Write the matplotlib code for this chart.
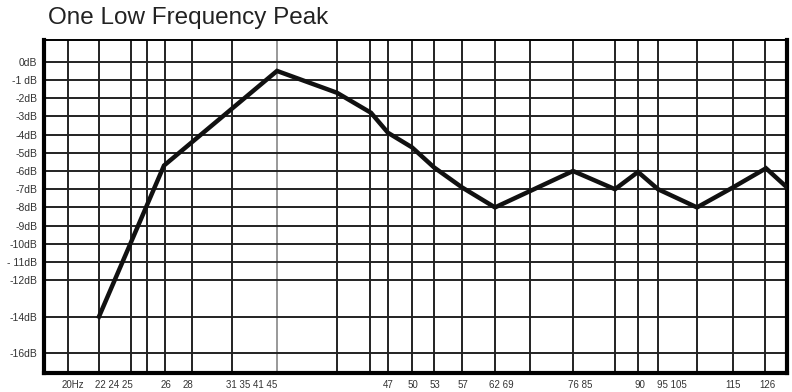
import matplotlib.pyplot as plt

# column positions of the printed grid (the x axis is not to scale)
grid_cols = [68, 99, 131, 147, 165, 192, 232, 337, 370, 388, 412, 434,
             462, 495, 530, 573, 615, 638, 658, 697, 733, 765]
grey_col = 277

# response curve: column position and level in dB
curve_cols = [99, 164, 277, 337, 371, 388, 412, 434, 462, 495,
              573, 615, 638, 658, 697, 733, 766, 787]
curve_db = [-14, -5.7, -0.5, -1.7, -2.8, -3.9, -4.7, -5.8, -6.9, -8,
            -6, -7, -6.05, -7, -8, -6.9, -5.85, -6.9]

# frequency labels along the bottom
freq_label_cols = [73, 114, 166, 188, 252, 388, 413, 435, 463, 501,
                   580, 640, 672, 733, 767]
freq_labels = ['20Hz', '22 24 25', '26', '28', '31 35 41 45', '47', '50',
               '53', '57', '62 69', '76 85', '90', '95 105', '115', '126']

db_ticks = [0, -1, -2, -3, -4, -5, -6, -7, -8, -9, -10, -11, -12, -14, -16]
db_labels = ['0dB', '-1 dB', '-2dB', '-3dB', '-4dB', '-5dB', '-6dB', '-7dB',
             '-8dB', '-9dB', '-10dB', '- 11dB', '-12dB', '-14dB', '-16dB']

plt.rcParams['font.family'] = ['Liberation Sans', 'DejaVu Sans']

fig = plt.figure(figsize=(7.92, 3.92), dpi=100)
ax = fig.add_axes([44 / 792, 1 - 373 / 392, 743 / 792, 333 / 392])

for c in grid_cols:
    ax.axvline(c, color='#222222', lw=1.4, zorder=1)
ax.axvline(grey_col, color='#999999', lw=1.4, zorder=1)
for d in db_ticks:
    ax.axhline(d, color='#222222', lw=1.4, zorder=1)

ax.plot(curve_cols, curve_db, color='#111111', lw=3.2, solid_joinstyle='miter',
        zorder=3)

ax.set_xlim(44, 787)
ax.set_ylim(-17.1, 1.2)

ax.set_yticks(db_ticks)
ax.set_yticklabels(db_labels, fontsize=7.5, color='#333333')
ax.set_xticks(freq_label_cols)
ax.set_xticklabels(freq_labels, fontsize=7, color='#333333')
ax.tick_params(length=0, pad=5)

for side in ['left', 'right', 'bottom']:
    ax.spines[side].set_linewidth(3)
ax.spines['top'].set_linewidth(1.4)

fig.text(48 / 792, 1 - 18 / 392, 'One Low Frequency Peak', fontsize=17.5,
         va='center', ha='left', color='#222222')

fig.savefig('out.png', dpi=100)
